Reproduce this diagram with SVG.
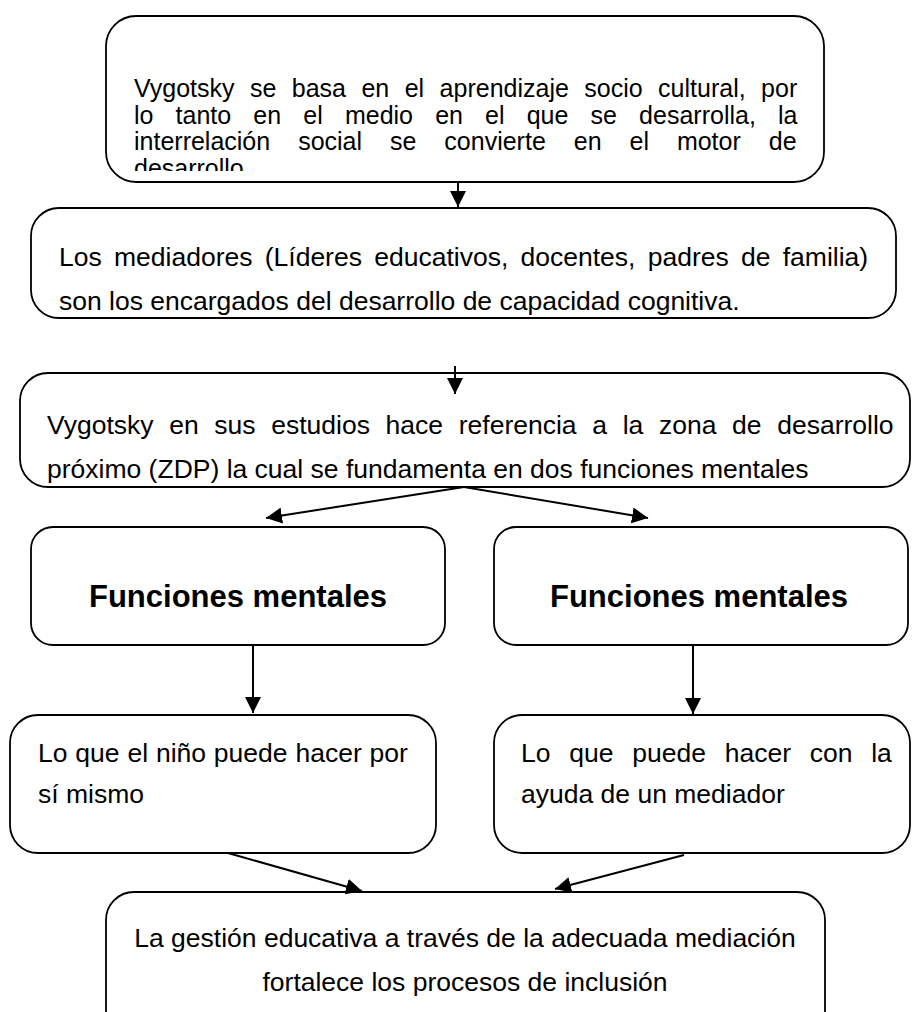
<svg xmlns="http://www.w3.org/2000/svg" width="912" height="1012" viewBox="0 0 912 1012">
<style>
.box{fill:#fff;stroke:#000;stroke-width:1.8}
.t{font-family:"Liberation Sans",Arial,sans-serif;font-size:26.5px;fill:#000}
.s{font-size:25px}
.b{font-family:"Liberation Sans",Arial,sans-serif;font-size:31px;font-weight:bold;fill:#000;text-anchor:middle}
.c{text-anchor:middle}
.con{stroke:#000;stroke-width:2;fill:none;marker-end:url(#ah)}
</style>
<defs>
<marker id="ah" viewBox="0 0 10 10" refX="10" refY="5" markerUnits="userSpaceOnUse" markerWidth="16" markerHeight="16" orient="auto">
<path d="M0,0 L10,5 L0,10 z" fill="#000"/>
</marker>
<clipPath id="clip1"><rect x="106" y="16" width="718" height="155"/></clipPath>
</defs>
<rect width="912" height="1012" fill="#fff"/>
<g id="node1">
<rect class="box" x="106" y="16" width="718" height="166" rx="30"/>
<g clip-path="url(#clip1)">
<text class="t s" x="134" y="97" word-spacing="8.5">Vygotsky se basa en el aprendizaje socio cultural, por</text>
<text class="t s" x="134" y="123.5" word-spacing="15.2">lo tanto en el medio en el que se desarrolla, la</text>
<text class="t s" x="134" y="150" word-spacing="21">interrelación social se convierte en el motor de</text>
<text class="t s" x="134" y="176.5">desarrollo</text>
</g>
</g>
<g id="node2">
<rect class="box" x="31" y="208" width="865" height="110" rx="28"/>
<text class="t" x="59" y="266" word-spacing="4.9">Los mediadores (Líderes educativos, docentes, padres de familia)</text>
<text class="t" x="59" y="310">son los encargados del desarrollo de capacidad cognitiva.</text>
</g>
<g id="node3">
<rect class="box" x="20" y="373" width="890" height="114" rx="28"/>
<text class="t" x="47" y="434" word-spacing="8.3">Vygotsky en sus estudios hace referencia a la zona de desarrollo</text>
<text class="t" x="47" y="478">próximo (ZDP) la cual se fundamenta en dos funciones mentales</text>
</g>
<g id="node4">
<rect class="box" x="31" y="527" width="414" height="118" rx="22"/>
<text class="b" x="238" y="607">Funciones mentales</text>
</g>
<g id="node5">
<rect class="box" x="494" y="527" width="414" height="118" rx="22"/>
<text class="b" x="699" y="607">Funciones mentales</text>
</g>
<g id="node6">
<rect class="box" x="10" y="715" width="426" height="138" rx="28"/>
<text class="t" x="38" y="762" word-spacing="0.5">Lo que el niño puede hacer por</text>
<text class="t" x="38" y="803">sí mismo</text>
</g>
<g id="node7">
<rect class="box" x="494" y="715" width="416" height="138" rx="28"/>
<text class="t" x="521" y="762" word-spacing="11.4">Lo que puede hacer con la</text>
<text class="t" x="521" y="803">ayuda de un mediador</text>
</g>
<g id="node8">
<rect class="box" x="106" y="892" width="719" height="150" rx="28"/>
<text class="t c" x="465" y="947">La gestión educativa a través de la adecuada mediación</text>
<text class="t c" x="465" y="991">fortalece los procesos de inclusión</text>
</g>
<g id="connectors">
<line class="con" x1="458" y1="182" x2="458" y2="207"/>
<line class="con" x1="455" y1="366" x2="455" y2="394"/>
<line class="con" x1="464" y1="487" x2="266" y2="518"/>
<line class="con" x1="464" y1="487" x2="648" y2="518"/>
<line class="con" x1="253" y1="645" x2="253" y2="713"/>
<line class="con" x1="693" y1="646" x2="693" y2="714"/>
<line class="con" x1="228" y1="853" x2="362" y2="891"/>
<line class="con" x1="684" y1="855" x2="555" y2="889"/>
</g>
</svg>
